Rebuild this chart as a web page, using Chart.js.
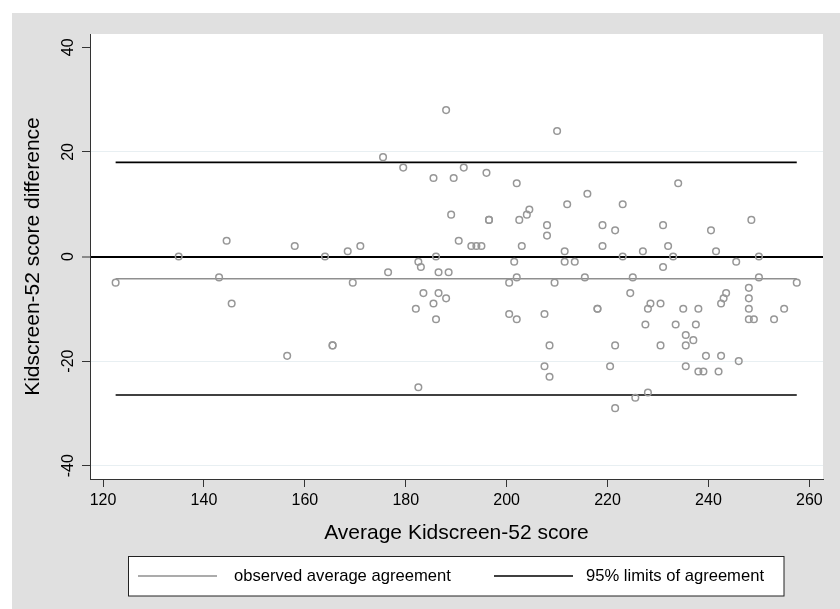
<!DOCTYPE html>
<html>
<head>
<meta charset="utf-8">
<script src="https://cdn.jsdelivr.net/npm/chart.js@4/dist/chart.umd.min.js"></script>
<style>
  html, body { margin: 0; padding: 0; background: #ffffff; }
  canvas { display: block; }
</style>
</head>
<body>
<canvas id="c" width="840" height="609"></canvas>
<script>
// ---- data ----
const avgScore = [
  122.5, 135, 143, 144.5, 145.5, 156.5, 158, 164, 165.5, 165.5, 168.5, 169.5, 171, 175.5, 176.5, 179.5,
  182, 182.5, 182.5, 183, 183.5, 185.5, 185.5, 186, 186, 186.5, 186.5, 188, 188, 188.5, 189, 189.5, 190.5, 191.5, 193, 194, 195, 196, 196.5, 196.5,
  200.5, 200.5, 201.5, 202, 202, 202, 202.5, 203, 204, 204.5, 207.5, 207.5, 208, 208, 208.5, 208.5, 209.5, 210, 211.5, 211.5, 212, 213.5, 215.5, 216, 218, 218, 219, 219,
  220.5, 221.5, 221.5, 221.5, 223, 223, 224.5, 225, 225.5, 227, 227.5, 228, 228, 228.5, 230.5, 230.5, 231, 231, 232, 233, 233.5, 234, 235, 235.5, 235.5, 235.5, 237, 237.5, 238, 238, 239, 239.5, 240.5, 241.5, 242, 242.5, 242.5, 243, 243.5, 245.5, 246, 248, 248, 248, 248, 248.5, 249, 250, 250, 253, 255, 257.5
];
const scoreDiff = [
  -5, 0, -4, 3, -9, -19, 2, 0, -17, -17, 1, -5, 2, 19, -3, 17,
  -10, -1, -25, -2, -7, 15, -9, 0, -12, -3, -7, 28, -8, -3, 8, 15, 3, 17, 2, 2, 2, 16, 7, 7,
  -5, -11, -1, 14, -4, -12, 7, 2, 8, 9, -11, -21, 6, 4, -17, -23, -5, 24, 1, -1, 10, -1, -4, 12, -10, -10, 6, 2,
  -21, 5, -17, -29, 10, 0, -7, -4, -27, 1, -13, -10, -26, -9, -9, -17, 6, -2, 2, 0, -13, 14, -10, -15, -17, -21, -16, -13, -10, -22, -22, -19, 5, 1, -22, -9, -19, -8, -7, -1, -20, -6, -8, -10, -12, 7, -12, 0, -4, -12, -10, -5
];
const meanDiff = -4.25;
const loaUpper = 18.0;
const loaLower = -26.5;
const xTickValues = [120, 140, 160, 180, 200, 220, 240, 260];
const yTickValues = [-40, -20, 0, 20, 40];
const legendLabels = ['observed average agreement', '95% limits of agreement'];
const xTitle = 'Average Kidscreen-52 score';
const yTitle = 'Kidscreen-52 score difference';

// ---- chart ----
const FONT = "'Liberation Sans', Arial, Helvetica, sans-serif";
Chart.defaults.font.family = FONT;
Chart.defaults.color = '#000000';

const xMin = Math.min(...avgScore);
const xMax = Math.max(...avgScore);
const points = avgScore.map((x, i) => ({ x: x, y: scoreDiff[i] }));
const hLine = (v) => [{ x: xMin, y: v }, { x: xMax, y: v }];

const GRAY_PT = '#979797';
const GRAY_LINE = '#8f8f8f';
const AXIS = '#333333';

const backgroundPlugin = {
  id: 'bg',
  beforeDraw(chart) {
    const { ctx, chartArea: a } = chart;
    ctx.save();
    ctx.fillStyle = '#ffffff';
    ctx.fillRect(0, 0, chart.width, chart.height);
    ctx.fillStyle = '#e0e0e0';
    ctx.fillRect(12, 13, chart.width - 12, chart.height - 13);
    ctx.fillStyle = '#ffffff';
    ctx.fillRect(a.left, a.top, a.right - a.left, a.bottom - a.top);
    ctx.restore();
  }
};

const legendPlugin = {
  id: 'boxLegend',
  afterDraw(chart) {
    const { ctx } = chart;
    ctx.save();
    ctx.fillStyle = '#ffffff';
    ctx.fillRect(128.5, 556.5, 655.5, 39.5);
    ctx.strokeStyle = '#222222';
    ctx.lineWidth = 1;
    ctx.strokeRect(128.5, 556.5, 655.5, 39.5);
    const cy = 576;
    const items = [
      { color: GRAY_LINE, width: 1.5, x0: 138, x1: 217, tx: 234 },
      { color: '#000000', width: 1.6, x0: 494, x1: 573, tx: 586 }
    ];
    ctx.font = '16.6px ' + FONT;
    ctx.textBaseline = 'middle';
    ctx.textAlign = 'left';
    items.forEach((it, i) => {
      ctx.beginPath();
      ctx.strokeStyle = it.color;
      ctx.lineWidth = it.width;
      ctx.moveTo(it.x0, cy);
      ctx.lineTo(it.x1, cy);
      ctx.stroke();
      ctx.fillStyle = '#000000';
      ctx.fillText(legendLabels[i], it.tx, cy + 0.5);
    });
    ctx.restore();
  }
};

new Chart(document.getElementById('c'), {
  type: 'scatter',
  data: {
    datasets: [
      {
        type: 'line', label: legendLabels[0], data: hLine(meanDiff),
        borderColor: GRAY_LINE, borderWidth: 1.5, pointRadius: 0, fill: false, order: 2
      },
      {
        type: 'line', label: legendLabels[1], data: hLine(loaUpper),
        borderColor: '#000000', borderWidth: 1.6, pointRadius: 0, fill: false, order: 2
      },
      {
        type: 'line', label: legendLabels[1], data: hLine(loaLower),
        borderColor: '#000000', borderWidth: 1.6, pointRadius: 0, fill: false, order: 2
      },
      {
        label: 'difference', data: points,
        pointStyle: 'circle', pointRadius: 3.3, pointBorderWidth: 1.5,
        pointBorderColor: GRAY_PT, pointBackgroundColor: 'rgba(0,0,0,0)', order: 1
      }
    ]
  },
  options: {
    responsive: false,
    animation: false,
    devicePixelRatio: 1,
    layout: { padding: { left: 0, top: 34, right: 17, bottom: 60 } },
    plugins: { legend: { display: false }, tooltip: { enabled: false } },
    scales: {
      x: {
        type: 'linear', min: 117.42, max: 262.7,
        afterBuildTicks: (s) => { s.ticks = xTickValues.map(v => ({ value: v })); },
        afterFit: (s) => { s.height = 70; },
        ticks: { autoSkip: false, padding: 4.4, font: { size: 16 }, color: '#000', callback: (v) => String(v), maxRotation: 0 },
        grid: { drawOnChartArea: false, drawTicks: true, tickLength: 8, tickColor: AXIS, tickWidth: 1 },
        border: { display: true, color: AXIS, width: 1 },
        title: { display: true, text: xTitle, font: { size: 21 }, color: '#000', padding: { top: 0, bottom: 3.4 } }
      },
      y: {
        type: 'linear', min: -42.55, max: 42.55,
        afterBuildTicks: (s) => { s.ticks = yTickValues.map(v => ({ value: v })); },
        afterFit: (s) => { s.width = 90; },
        ticks: { autoSkip: false, padding: 1.5, font: { size: 16 }, color: '#000', minRotation: 90, maxRotation: 90, crossAlign: 'center', callback: (v) => String(v) },
        grid: {
          drawOnChartArea: true, drawTicks: true, tickLength: 8, tickColor: AXIS, tickWidth: 1,
          color: (c) => {
            const v = c.tick ? c.tick.value : null;
            if (v === 0) return '#000000';
            if (v === 40) return 'rgba(0,0,0,0)';
            return '#e8eff2';
          },
          lineWidth: (c) => (c.tick && c.tick.value === 0 ? 2 : 1)
        },
        border: { display: true, color: AXIS, width: 1 },
        title: { display: true, text: yTitle, font: { size: 21 }, color: '#000', padding: { top: 20.4, bottom: 0 } }
      }
    }
  },
  plugins: [backgroundPlugin, legendPlugin]
});
</script>
</body>
</html>
